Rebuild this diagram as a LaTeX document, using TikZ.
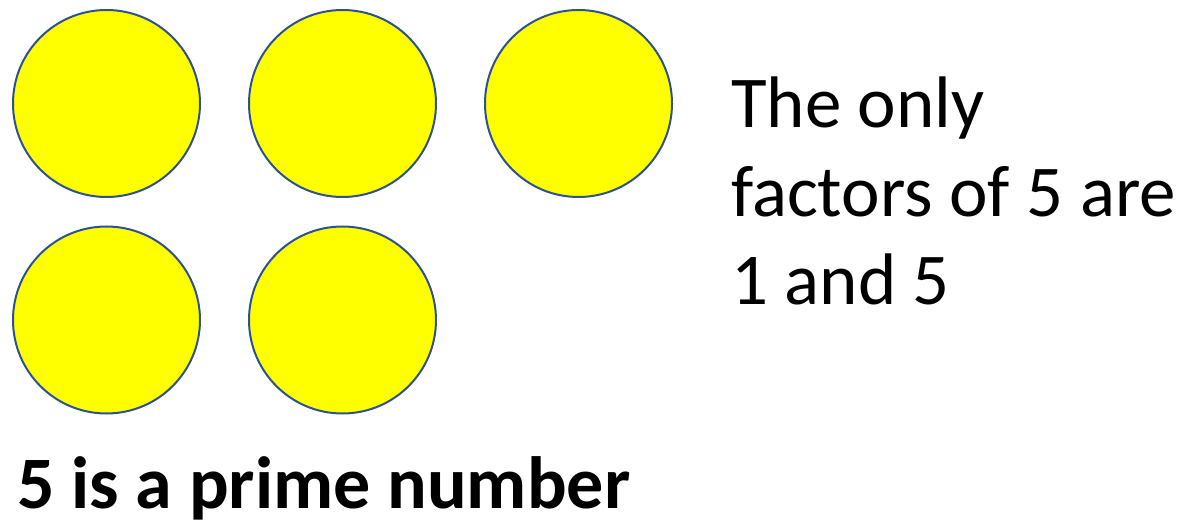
\documentclass[tikz,border=0pt]{standalone}
\usepackage{fontspec}
\setmainfont{Carlito}
\usepackage{xcolor}
\usetikzlibrary{positioning}
\definecolor{dotline}{HTML}{2F528F}
\definecolor{dotfill}{HTML}{FFFF00}

\begin{document}
\begin{tikzpicture}[x=1pt,y=-1pt,
  dot/.style={circle,draw=dotline,line width=2pt,fill=dotfill,minimum size=187pt,inner sep=0pt}]
  \useasboundingbox (0,0) rectangle (1191,526);
  \node[dot] (d1) at (106.5,103.5) {};
  \node[dot] (d2) at (342.5,103.5) {};
  \node[dot] (d3) at (578.5,103.5) {};
  \node[dot] (d4) at (106.5,320) {};
  \node[dot] (d5) at (342.5,320) {};
  % base anchor sits on the last line
  \node[anchor=base west,align=left,inner sep=0pt,font=\fontsize{73}{88.5}\selectfont]
    (facts) at (731,305) {The only\\factors of 5 are\\1 and 5};
  \node[anchor=base west,inner sep=0pt,font=\fontsize{74}{90}\selectfont\bfseries]
    (prime) at (17,508) {5 is a prime number};
\end{tikzpicture}
\end{document}
